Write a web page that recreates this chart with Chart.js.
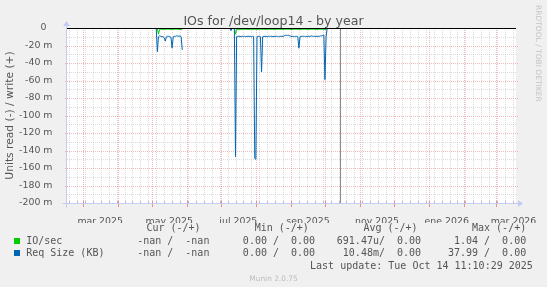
<!DOCTYPE html>
<html>
<head>
<meta charset="utf-8">
<title>IOs for /dev/loop14 - by year</title>
<script src="https://cdn.jsdelivr.net/npm/chart.js@4.4.1/dist/chart.umd.min.js"></script>
<style>
html,body{margin:0;padding:0;background:#f0f0f0;}
#wrap{position:relative;width:547px;height:287px;overflow:hidden;background:#f0f0f0;}
#c{position:absolute;left:0;top:0;}
.txt{position:absolute;white-space:pre;color:#555;}
.mono{font-family:"DejaVu Sans Mono",monospace;font-size:10px;line-height:12px;}
.sq{position:absolute;width:6px;height:6px;}
</style>
</head>
<body>
<div id="wrap">
<canvas id="c" width="547" height="287"></canvas>
</div>
<script>
// ---- data (days counted from 1 Jan 2025) ----
const days = [
124,125,126,127,128,129,130,131,132,133,134,135,136,137,138,139,140,141,142,143,144,145,146,147,148,
189,190,191,192,193,194,195,196,197,198,199,200,201,202,203,204,205,206,207,208,
209,210,211,212,213,214,215,216,217,218,219,220,221,222,223,224,225,226,227,228,
229,230,231,232,233,234,235,236,237,238,239,240,241,242,243,244,245,246,247,248,
249,250,251,252,253,254,255,256,257,258,259,260,261,262,263,264,265,266,267,268,
269,270,271,272,273,274,275];

// Req Size (KB), read side (negative), in milli units
const reqSize = [
0,-27,-10,-9,-9.5,-10,-10,-11,-15,-10,-9.5,-9.5,-10,-10.5,-23,-10,-9.5,-9.5,-9,-9,-9.5,-9,-10,-25,null,
0,-3,0,0,0,-147,-10,-9.5,-9.5,-9.5,-10,-9.5,-9.5,-9.5,-10,-9.5,-9.5,-9.5,-9.5,-10,
-9.5,-9.5,-149,-150,-10,-9.5,-9.5,-10,-50,-10,-9.5,-9.5,-9.5,-10,-9.5,-9.5,-9.5,-9.5,-10,-9.5,
-9.5,-9.5,-9.5,-10,-9.5,-9.5,-9.5,-9.5,-9,-8.3,-8.3,-8.5,-8.3,-9,-9.5,-9.5,-9.5,-10,-9.5,-9.5,
-10,-23,-10,-9.5,-9.5,-9.5,-9.5,-10,-9.5,-9.5,-9.5,-9.5,-9,-9.5,-9.5,-9.5,-9.5,-9.5,-9.5,-9.5,
-9,-9,-8.5,-8,-59,-10,0];

// IO/sec, read side (negative), in milli units
const ioRead = [
0,-1,-7,-1.5,-1.5,-1.5,-1.5,-1.5,-1.5,-1.5,-1.5,-1.5,-1.5,-1.5,-1.5,-1.5,-1.5,-1.5,-1.5,-1.5,-1.5,-1.5,-1.5,-1.5,null,
0,0,0,0,0,-7,-1.5,-1.5,-1.5,-1.5,-1.5,-1.5,-1.5,-1.5,-1.5,-1.5,-1.5,-1.5,-1.5,-1.5,
-1.5,-1.5,-1.5,-1.5,-1.5,-1.5,-1.5,-1.5,-1.5,-1.5,-1.5,-1.5,-1.5,-1.5,-1.5,-1.5,-1.5,-1.5,-1.5,-1.5,
-1.5,-1.5,-1.5,-1.5,-1.5,-1.5,-1.5,-1.5,-1.5,-1.5,-1.5,-1.5,-1.5,-1.5,-1.5,-1.5,-1.5,-1.5,-1.5,-1.5,
-1.5,-1.5,-1.5,-1.5,-1.5,-1.5,-1.5,-1.5,-1.5,-1.5,-1.5,-1.5,-1.5,-1.5,-1.5,-1.5,-1.5,-1.5,-1.5,-1.5,
-1.5,-1.5,-1.5,-1.5,-1.5,-1.5,0];

const nowDay = 286.47;   // Tue Oct 14 11:10:29 2025
const zeroRule = 0;

const tickLabels = ['mar 2025','may 2025','jul 2025','sep 2025','nov 2025','ene 2026','mar 2026'];
const tickLabelMonths = [[2025,2],[2025,4],[2025,6],[2025,8],[2025,10],[2026,0],[2026,2]];
const yTickValues = [0,-10,-20,-30,-40,-50,-60,-70,-80,-90,-100,-110,-120,-130,-140,-150,-160,-170,-180,-190,-200];

const legendNames = ['IO/sec','Req Size (KB)'];
const legendColors = ['#00cc00','#0066b3'];
const curVals = ['-nan /  -nan','-nan /  -nan'];
const minVals = ['0.00 /  0.00','0.00 /  0.00'];
const avgVals = ['691.47u/  0.00','10.48m/  0.00'];
const maxVals = ['1.04 /  0.00','37.99 /  0.00'];
const lastUpdate = 'Last update: Tue Oct 14 11:10:29 2025';

// ---- calendar helpers for grid ----
const DAY = 86400000, EPOCH = Date.UTC(2025,0,1);
const dayOf = (y,m,d=1) => (Date.UTC(y,m,d) - EPOCH) / DAY;
const xMin = 45.2, xMax = 441.7;

const tickType = new Map();
const labelMap = new Map();
function buildXTicks() {
  tickType.clear(); labelMap.clear();
  for (let d = dayOf(2025,0,6); d <= xMax; d += 7) if (d > xMin) tickType.set(d, 'minor');
  for (let y = 2025; y <= 2026; y++) for (let m = 0; m < 12; m++) {
    const d = dayOf(y,m); if (d > xMin && d < xMax) tickType.set(d, 'major');
  }
  tickLabelMonths.forEach(([y,m], i) => {
    const mid = (dayOf(y,m) + dayOf(y,m+1)) / 2;
    labelMap.set(mid, tickLabels[i]);
    if (!tickType.has(mid)) tickType.set(mid, 'label');
  });
  return [...tickType.keys()].sort((a,b)=>a-b).map(v => ({value: v}));
}

const MAJ = 'rgba(230,120,120,0.5)', MIN = 'rgba(160,160,160,0.38)';
const MAJ_TICK = 'rgba(225,110,110,0.75)', MIN_TICK = 'rgba(150,150,150,0.55)';
const AXIS = '#c5ccf2';

const rrdPlugin = {
  id: 'rrd',
  beforeDraw(chart) {
    const {ctx, chartArea: a} = chart;
    ctx.save(); ctx.fillStyle = '#ffffff';
    ctx.fillRect(a.left, a.top, a.right - a.left, a.bottom - a.top);
    ctx.restore();
  },
  beforeDatasetsDraw(chart) {
    const {ctx, chartArea: a, scales: {x, y}} = chart;
    ctx.save();
    ctx.lineWidth = 1;
    const bottom = Math.round(a.bottom), top = Math.round(a.top);
    // vertical grid (weeks gray, months red)
    x.ticks.forEach(t => {
      const ty = tickType.get(t.value);
      if (ty !== 'major' && ty !== 'minor') return;
      const px = Math.round(x.getPixelForValue(t.value)) + 0.5;
      ctx.strokeStyle = ty === 'major' ? MAJ : MIN;
      ctx.setLineDash([1,1]);
      ctx.beginPath(); ctx.moveTo(px, top); ctx.lineTo(px, bottom); ctx.stroke();
      ctx.setLineDash([]);
      ctx.strokeStyle = ty === 'major' ? MAJ_TICK : MIN_TICK;
      ctx.beginPath();
      if (ty === 'major') { ctx.moveTo(px, bottom - 2); ctx.lineTo(px, bottom + 4); }
      else { ctx.moveTo(px, bottom - 2); ctx.lineTo(px, bottom + 1); }
      ctx.stroke();
    });
    // horizontal grid
    y.ticks.forEach(t => {
      const v = t.value;
      if (v === 0 || v === -200) return;
      const major = v % 20 === 0;
      const py = Math.round(y.getPixelForValue(v)) + 0.5;
      ctx.strokeStyle = major ? MAJ : MIN;
      ctx.setLineDash([1,1]);
      ctx.beginPath();
      ctx.moveTo(major ? a.left - 2 : a.left, py); ctx.lineTo(major ? a.right + 2 : a.right, py);
      ctx.stroke();
    });
    ctx.restore();
  },
  afterDatasetsDraw(chart) {
    const {ctx, chartArea: a, scales: {x, y}} = chart;
    ctx.save();
    ctx.lineWidth = 1;
    const nx = Math.round(x.getPixelForValue(nowDay)) + 0.5;
    ctx.strokeStyle = '#8c8c8c';
    ctx.beginPath(); ctx.moveTo(nx, y.getPixelForValue(0)); ctx.lineTo(nx, y.getPixelForValue(-200)); ctx.stroke();
    const zy = Math.round(y.getPixelForValue(zeroRule)) + 0.5;
    ctx.strokeStyle = '#000000';
    ctx.beginPath(); ctx.moveTo(a.left, zy); ctx.lineTo(a.right, zy); ctx.stroke();
    // axes with arrows
    const ax = Math.round(a.left) - 0.5, by = Math.round(a.bottom) + 0.5, top = Math.round(a.top);
    ctx.strokeStyle = AXIS; ctx.fillStyle = AXIS;
    ctx.beginPath(); ctx.moveTo(ax, by + 4); ctx.lineTo(ax, top - 4); ctx.stroke();
    ctx.beginPath(); ctx.moveTo(ax - 4, by); ctx.lineTo(a.right + 4, by); ctx.stroke();
    ctx.beginPath(); ctx.moveTo(ax - 3.5, top - 2); ctx.lineTo(ax + 3.5, top - 2); ctx.lineTo(ax, top - 7); ctx.closePath(); ctx.fill();
    ctx.beginPath(); ctx.moveTo(a.right + 2, by - 3.5); ctx.lineTo(a.right + 2, by + 3.5); ctx.lineTo(a.right + 7, by); ctx.closePath(); ctx.fill();
    ctx.restore();
  }
};

new Chart(document.getElementById('c'), {
  type: 'line',
  data: {
    datasets: [
      {label: 'IO/sec', data: days.map((d,i) => ({x: d, y: ioRead[i]})), borderColor: '#00cc00', borderWidth: 1, pointRadius: 0, tension: 0, spanGaps: false, order: 2},
      {label: 'Req Size (KB)', data: days.map((d,i) => ({x: d, y: reqSize[i]})), borderColor: '#0066b3', borderWidth: 1, pointRadius: 0, tension: 0, spanGaps: false, order: 1}
    ]
  },
  options: {
    responsive: false, animation: false, devicePixelRatio: 1,
    layout: {padding: {left: 0, top: 28, right: 31, bottom: 64}},
    plugins: {legend: {display: false}, tooltip: {enabled: false}, title: {display: false}},
    scales: {
      x: {
        type: 'linear', min: xMin, max: xMax,
        afterFit: s => { s.height = 20; },
        afterBuildTicks: s => { s.ticks = buildXTicks(); },
        ticks: {autoSkip: false, maxRotation: 0, minRotation: 0, padding: 5, color: '#555',
                font: {family: 'DejaVu Sans', size: 9.4},
                callback: v => labelMap.get(v) || ''},
        grid: {display: false},
        border: {display: false}
      },
      y: {
        min: -200, max: 0,
        afterFit: s => { s.width = 67; },
        afterBuildTicks: s => { s.ticks = yTickValues.map(v => ({value: v})); },
        ticks: {autoSkip: false, padding: 6.5, color: '#555', font: {family: 'DejaVu Sans', size: 9.4},
                callback: v => (v % 20 !== 0) ? '' : (v === 0 ? '0\u00a0\u00a0' : v + ' m')},
        grid: {display: false},
        border: {display: false},
        title: {display: true, text: 'Units read (-) / write (+)', color: '#555',
                font: {family: 'DejaVu Sans', size: 10.7}, padding: {top: 4, bottom: 0}}
      }
    }
  },
  plugins: [rrdPlugin]
});

// ---- texts ----
const wrap = document.getElementById('wrap');
function addText(txt, style, cls) {
  const d = document.createElement('div');
  d.className = 'txt ' + (cls || '');
  d.textContent = txt;
  Object.assign(d.style, style);
  wrap.appendChild(d);
  return d;
}
addText('IOs for /dev/loop14 - by year', {left: '0px', width: '547px', top: '12.6px', textAlign: 'center',
  fontFamily: '"DejaVu Sans"', fontSize: '12.6px', lineHeight: '15px'});
addText('RRDTOOL / TOBI OETIKER', {left: '534px', top: '5px', writingMode: 'vertical-rl',
  fontFamily: '"DejaVu Sans"', fontSize: '7.5px', lineHeight: '9px', color: '#c4c4c4'});

const headers = ['Cur (-/+)','Min (-/+)','Avg (-/+)','Max (-/+)'];
const headerRight = [200.6, 308.8, 417.6, 526.2];
headers.forEach((h,i) => addText(h, {right: (547 - headerRight[i]) + 'px', top: (228.3 - 6) + 'px'}, 'mono'));
const colRight = [209.4, 315.1, 421.1, 526.2];
const rowY = [241.3, 253.4];
legendNames.forEach((n,i) => {
  const sq = document.createElement('div');
  sq.className = 'sq';
  Object.assign(sq.style, {left: '14px', top: (rowY[i] - 3) + 'px', background: legendColors[i]});
  wrap.appendChild(sq);
  addText(n, {left: '26.2px', top: (rowY[i] - 6) + 'px'}, 'mono');
  [curVals[i], minVals[i], avgVals[i], maxVals[i]].forEach((v,j) =>
    addText(v, {right: (547 - colRight[j]) + 'px', top: (rowY[i] - 6) + 'px'}, 'mono'));
});
addText(lastUpdate, {right: (547 - 532.8) + 'px', top: (265.5 - 6) + 'px'}, 'mono');
addText('Munin 2.0.75', {left: '0px', width: '547px', textAlign: 'center', top: (279 - 5) + 'px',
  fontFamily: '"DejaVu Sans"', fontSize: '7.4px', lineHeight: '9px', color: '#bdbdbd'});
</script>
</body>
</html>
